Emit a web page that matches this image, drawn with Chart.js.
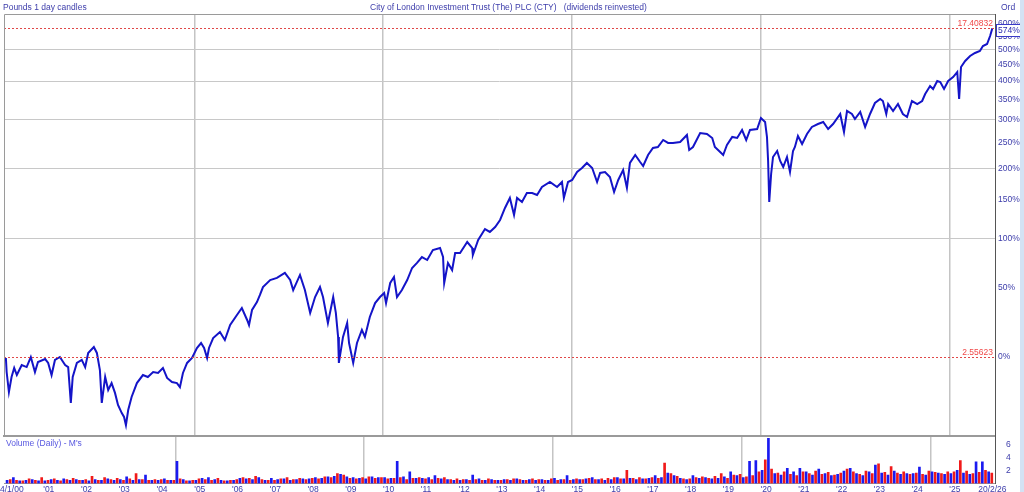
<!DOCTYPE html>
<html><head><meta charset="utf-8">
<script src="https://cdn.jsdelivr.net/npm/chart.js@4/dist/chart.umd.min.js"></script>
<style>
html,body{margin:0;padding:0;background:#fff;width:1024px;height:492px;overflow:hidden;position:relative;font-family:"Liberation Sans",Arial,sans-serif;}
.t{position:absolute;font-size:8.5px;line-height:10px;white-space:pre;color:#3c3caa;}
canvas{position:absolute;left:0;}
#strip{position:absolute;left:1020px;top:0;width:4px;height:492px;background:#d4e2f4;}
</style></head><body>
<canvas id="main" width="1024" height="437" style="top:0"></canvas>
<canvas id="vol" width="1024" height="55" style="top:437px"></canvas>
<div class="t" style="left:3px;top:2px">Pounds 1 day candles</div>
<div class="t" style="left:370px;top:2px">City of London Investment Trust (The) PLC (CTY)   (dividends reinvested)</div>
<div class="t" style="left:1001px;top:2px">Ord</div>
<div class="t" style="left:6px;top:438px;color:#5858e0">Volume (Daily) - M's</div>
<div id="strip"></div>
<script>
// ---- price series: decimal year and % change vs first close ----
const dates = [2000.01,2000.03,2000.09,2000.16,2000.23,2000.30,2000.43,2000.56,2000.67,2000.78,2000.86,
2001.05,2001.13,2001.22,2001.31,2001.44,2001.58,2001.66,2001.73,2001.78,2001.89,
2002.02,2002.11,2002.19,2002.34,2002.42,2002.50,2002.55,2002.64,2002.72,2002.81,2002.90,2002.98,
2003.08,2003.14,2003.19,2003.25,2003.34,2003.48,2003.64,2003.77,2003.91,
2004.04,2004.17,2004.28,2004.41,2004.54,2004.62,2004.70,2004.81,2004.94,
2005.07,2005.18,2005.26,2005.34,2005.39,2005.50,2005.68,2005.81,2005.95,
2006.13,2006.26,2006.40,2006.45,2006.53,2006.66,2006.74,2006.82,
2007.01,2007.19,2007.40,2007.54,2007.62,2007.80,2007.93,
2008.07,2008.20,2008.33,2008.41,2008.54,2008.68,2008.75,2008.81,2008.83,2008.94,
2009.05,2009.10,2009.21,2009.31,2009.44,2009.52,2009.65,2009.79,2009.92,
2010.03,2010.08,2010.19,2010.29,2010.37,2010.50,2010.64,2010.77,2010.90,
2011.03,2011.17,2011.32,2011.51,2011.59,2011.62,2011.72,2011.83,2011.91,
2012.04,2012.23,2012.36,2012.38,2012.52,2012.70,2012.83,2012.97,
2013.10,2013.23,2013.36,2013.47,2013.55,2013.68,2013.81,2013.95,
2014.08,2014.21,2014.42,2014.61,2014.74,2014.79,2014.90,
2015.01,2015.14,2015.27,2015.40,2015.54,2015.67,2015.75,2015.88,
2016.01,2016.12,2016.23,2016.36,2016.46,2016.54,2016.68,2016.81,2016.89,
2017.02,2017.15,2017.28,2017.42,2017.55,2017.68,2017.87,
2018.05,2018.11,2018.21,2018.40,2018.58,2018.72,2018.79,2018.93,
2019.01,2019.11,2019.25,2019.38,2019.51,2019.62,2019.72,2019.91,
2020.01,2020.12,2020.17,2020.20,2020.23,2020.28,2020.33,2020.44,2020.52,2020.60,2020.70,2020.78,2020.86,2020.91,2020.99,
2021.10,2021.23,2021.36,2021.52,2021.66,2021.79,2021.92,
2022.11,2022.21,2022.29,2022.42,2022.50,2022.64,2022.77,2022.90,
2023.03,2023.17,2023.24,2023.33,2023.38,2023.51,2023.64,2023.77,2023.88,
2024.01,2024.15,2024.28,2024.36,2024.49,2024.57,2024.68,2024.76,2024.86,2024.97,
2025.10,2025.21,2025.26,2025.31,2025.42,2025.55,2025.68,2025.81,2025.89,2026.00,2026.08,2026.14];
const pct = [-0.6,-8.4,-18.5,-11.0,-6.2,-10.0,-4.6,-5.7,0,-8.4,-2.9,
-1.2,-3.4,-10.0,-1.7,0,-4.6,-5.7,-23.5,-11.0,-3.4,
-1.7,-5.7,2.4,6.0,2.4,-7.3,-23.5,-11.0,-17.5,-14.1,-18.9,-24.4,
-27.9,-29.5,-32.8,-26.6,-20.8,-14.1,-10.0,-11.0,-8.4,
-8.9,-6.2,-11.5,-13.6,-14.1,-16.1,-8.9,-3.4,-0.6,
5.4,8.5,5.4,-0.6,5.4,11.7,15.7,10.4,20.5,
27.8,33.1,24.1,20.5,31.6,37.8,43.6,50.4,
56.7,58.6,63.3,56.7,47.8,61.4,47.8,
29.3,41.9,50.4,41.9,21.9,41.9,29.3,12.4,-3.4,12.4,
21.9,8.5,-3.4,8.5,17.1,12.4,26.3,37.0,41.9,
45.3,37.0,54.0,59.5,41.9,47.8,56.7,68.1,73.1,
79.2,76.1,86.7,88.9,79.2,54.0,73.1,66.1,83.5,
83.5,95.6,88.9,81.3,97.9,111.0,107.4,113.5,
122.4,138.6,152.9,129.0,152.9,147.0,160.4,160.4,
157.3,169.6,177.6,169.6,177.6,152.9,177.6,
180.9,194.3,201.2,210.2,201.2,177.6,192.6,194.3,
185.8,161.9,180.9,197.8,168.1,210.2,225.0,212.0,204.8,
225.0,238.5,240.5,254.7,248.6,248.6,250.6,
265.2,234.6,240.5,269.5,267.4,258.9,240.5,230.7,
225.0,244.5,261.0,258.9,276.0,254.7,276.0,278.2,
303.3,294.0,261.0,213.8,147.0,190.9,221.2,232.7,213.8,203.0,221.2,194.3,232.7,240.5,263.1,
246.5,267.4,282.7,289.4,294.0,278.2,289.4,
312.8,271.7,320.1,312.8,300.9,317.7,282.7,312.8,
340.2,350.6,345.3,312.8,337.6,320.1,337.6,312.8,305.7,
345.3,337.6,345.3,363.9,386.1,377.7,400.5,397.5,377.7,400.5,
412.2,427.4,350.6,443.0,462.4,479.1,489.3,496.2,513.9,521.0,550.7,581.0];

// reference price lines
const basePrice = 2.55623;
const refPrices = [17.40832, 2.55623];
const refLabels = ["17.40832", "2.55623"];
const lastLabel = "574%";

// axis ticks
const tickPcts = [0,50,100,150,200,250,300,350,400,450,500,550,600];
const majorPcts = [100,200,300,400,500];
const gridYears = [2005,2010,2015,2020,2025];
const yearTicks = [2001,2002,2003,2004,2005,2006,2007,2008,2009,2010,2011,2012,2013,2014,2015,2016,2017,2018,2019,2020,2021,2022,2023,2024,2025];
const yearLabels = ["'01","'02","'03","'04","'05","'06","'07","'08","'09","'10","'11","'12","'13","'14","'15","'16","'17","'18","'19","'20","'21","'22","'23","'24","'25"];
const endLabels = ["4/1/00", "20/2/26"];
const endDates = [2000.01, 2026.14];
const volTicks = [2,4,6];

// volume (millions), 6 periods per year from 2000
const volYear0 = 2000, volPerYear = 6;
const volBlue = [
.5,.9,.4,.5,.6,.4, .4,.6,.5,.7,.5,.6, .5,.4,.6,.5,.7,.5, .6,1.0,.5,.6,1.3,.5,
.5,.7,.5,3.4,.6,.4, .5,.8,.9,.6,.5,.4, .5,.8,.7,.6,.9,.5, .8,.6,.7,.5,.6,.7,
.7,.9,.8,1.0,1.1,1.4, 1.0,.9,.8,.7,1.0,.9, .9,.8,3.4,1.0,1.8,.8, .8,.9,1.2,.7,.6,.5,
.5,.6,1.3,.7,.5,.6, .5,.6,.5,.7,.5,.6, .5,.6,.5,.8,.6,1.2, .6,.6,.7,.9,.6,.5,
.6,.9,.7,.8,.6,.7, .8,1.2,.9,1.6,1.2,.8, .6,1.2,.8,.9,.7,.8, 1.0,1.8,1.2,.9,3.4,3.5,
2.0,6.9,1.5,1.3,2.3,1.8, 2.3,1.8,1.3,2.2,1.5,1.2, 1.4,1.9,2.3,1.5,1.2,1.8, 2.8,1.6,1.3,1.9,1.4,1.5,
1.5,2.5,1.3,1.8,1.6,1.4, 1.5,2.0,1.6,1.4,3.3,3.3, 1.8];
const volRed = [
.6,.5,.4,.7,.5,.9, .5,.7,.4,.6,.8,.5, .6,1.1,.5,.9,.6,.8, .5,.7,1.5,.6,.5,.6,
.6,.5,.5,.7,.4,.5, .7,.6,.5,.8,.4,.5, .6,.9,.8,1.1,.6,.5, .5,.7,.9,.6,.8,.6,
.8,.7,1.0,.9,1.5,1.3, .8,.7,.9,1.0,.8,.9, .7,.8,.9,.6,.8,.9, .7,.6,.8,.9,.6,.7,
.6,.5,.6,.5,.7,.5, .5,.6,.7,.6,.5,.7, .6,.5,.7,.5,.6,.5, .7,.6,.8,.6,.7,.8,
.9,.7,2.0,.8,.9,.7, .9,.8,3.1,1.5,1.1,.7, .7,.9,1.0,.8,1.1,1.5, .8,1.3,1.4,1.0,1.2,1.8,
3.6,2.2,1.6,1.8,1.4,1.2, 1.8,1.5,1.9,1.4,1.7,1.3, 1.6,2.2,1.8,1.4,1.9,1.5, 3.0,1.7,2.6,1.6,1.8,1.4,
1.6,1.4,1.9,1.7,1.5,1.8, 1.8,3.5,1.9,1.5,1.7,2.0, 1.6];

const xMin = 1999.96, xMax = 2026.21;
const yMin = 0.6307, yMax = 7.398;
const vMin = 0, vMax = 7.1;
const TXT = '#3c3caa';
const FONT = {size: 8.5, family: '"Liberation Sans", Arial, sans-serif'};
const FONTSTR = '8.5px "Liberation Sans", Arial, sans-serif';

Chart.defaults.animation = false;
Chart.defaults.responsive = false;
Chart.defaults.devicePixelRatio = 1;
Chart.defaults.plugins.legend.display = false;
Chart.defaults.plugins.tooltip.enabled = false;

const mainPoints = dates.map((d, i) => ({x: d, y: 1 + pct[i] / 100}));

const mainDeco = {
  id: 'mainDeco',
  afterDatasetsDraw(chart) {
    const {ctx, chartArea: a, scales: {y}} = chart;
    ctx.save();
    ctx.font = FONTSTR;
    refPrices.forEach((p, i) => {
      const py = Math.round(y.getPixelForValue(p / basePrice)) + 0.5;
      ctx.strokeStyle = '#e04848'; ctx.lineWidth = 1; ctx.setLineDash([2, 2]);
      ctx.beginPath(); ctx.moveTo(a.left, py); ctx.lineTo(a.right, py); ctx.stroke();
      ctx.setLineDash([]);
      ctx.fillStyle = '#f04848'; ctx.textAlign = 'right'; ctx.textBaseline = 'alphabetic';
      ctx.fillText(refLabels[i], a.right - 2, py - 3);
    });
    const ly = Math.round(y.getPixelForValue(1 + pct[pct.length - 1] / 100)) + 2;
    ctx.fillStyle = '#fff'; ctx.fillRect(a.right + 1, ly - 6, 25, 12);
    ctx.strokeStyle = '#3a3ac8'; ctx.lineWidth = 1;
    ctx.strokeRect(a.right + 1.5, ly - 5.5, 25, 12);
    ctx.fillStyle = '#2a2ab0'; ctx.textAlign = 'left'; ctx.textBaseline = 'middle';
    ctx.fillText(lastLabel, a.right + 3, ly + 0.5);
    ctx.strokeStyle = '#9a9a9a';
    ctx.beginPath(); ctx.moveTo(a.left + 0.5, a.bottom); ctx.lineTo(a.left + 0.5, a.top + 0.5); ctx.lineTo(a.right, a.top + 0.5); ctx.stroke();
    ctx.restore();
  }
};

new Chart(document.getElementById('main'), {
  type: 'line',
  data: {datasets: [{data: mainPoints, borderColor: '#1414c8', borderWidth: 2, pointRadius: 0, tension: 0, fill: false}]},
  options: {
    layout: {padding: {left: 4, top: 14, right: 0, bottom: 0}},
    scales: {
      x: {type: 'linear', min: xMin, max: xMax,
        afterBuildTicks: s => { s.ticks = gridYears.map(v => ({value: v})); s.min = xMin; s.max = xMax; },
        afterFit: s => { s.height = 1; s.paddingLeft = 0; s.paddingRight = 0; },
        ticks: {display: false},
        grid: {color: '#c4c4c4', lineWidth: 1.5, drawTicks: false},
        border: {display: true, color: '#9a9a9a', width: 2}},
      y: {type: 'logarithmic', position: 'right', min: yMin, max: yMax,
        afterBuildTicks: s => { s.ticks = tickPcts.map(p => ({value: 1 + p / 100})); s.min = yMin; s.max = yMax; },
        afterFit: s => { s.width = 29; s.paddingTop = 0; s.paddingBottom = 0; },
        ticks: {autoSkip: false, padding: 3, color: TXT, font: FONT,
          callback: v => Math.round((v - 1) * 100) + '%'},
        grid: {drawTicks: false, lineWidth: 1,
          color: c => (c.tick && majorPcts.includes(Math.round((c.tick.value - 1) * 100))) ? '#c8c8c8' : 'rgba(0,0,0,0)'},
        border: {display: true, color: '#555', width: 1}}
    }
  },
  plugins: [mainDeco]
});

const blueBars = volBlue.map((v, i) => ({x: volYear0 + (i + 0.25) / volPerYear, y: v}));
const redBars = volRed.map((v, i) => ({x: volYear0 + (i + 0.75) / volPerYear, y: v}));

const volDeco = {
  id: 'volDeco',
  afterDraw(chart) {
    const {ctx, chartArea: a, scales: {x}} = chart;
    ctx.save();
    ctx.font = FONTSTR; ctx.fillStyle = TXT; ctx.textBaseline = 'middle';
    const yy = a.bottom + 1 + 5.1;
    ctx.textAlign = 'left'; ctx.fillText(endLabels[0], 0, yy);
    ctx.textAlign = 'center'; ctx.fillText(endLabels[1], x.getPixelForValue(endDates[1]), yy);
    ctx.restore();
  }
};

new Chart(document.getElementById('vol'), {
  type: 'bar',
  data: {datasets: [
    {data: blueBars, backgroundColor: '#1a1af0', barThickness: 2, grouped: false},
    {data: redBars, backgroundColor: '#f01a1a', barThickness: 2, grouped: false}
  ]},
  options: {
    layout: {padding: {left: 4, top: 0, right: 0, bottom: 0}},
    scales: {
      x: {type: 'linear', min: xMin, max: xMax, offset: false,
        afterBuildTicks: s => { s.ticks = yearTicks.map(v => ({value: v})); s.min = xMin; s.max = xMax; },
        afterFit: s => { s.height = 8.5; s.paddingLeft = 0; s.paddingRight = 0; },
        ticks: {autoSkip: false, maxRotation: 0, align: 'start', padding: 1, color: TXT, font: FONT,
          callback: (v, i) => yearLabels[i]},
        grid: {drawTicks: false, lineWidth: 1.5,
          color: c => (c.tick && gridYears.includes(c.tick.value)) ? '#c4c4c4' : 'rgba(0,0,0,0)'},
        border: {display: true, color: '#9a9a9a', width: 1}},
      y: {position: 'right', min: vMin, max: vMax,
        afterBuildTicks: s => { s.ticks = volTicks.map(v => ({value: v})); s.min = vMin; s.max = vMax; },
        afterFit: s => { s.width = 29; s.paddingTop = 0; s.paddingBottom = 0; },
        ticks: {padding: 3, color: TXT, font: FONT},
        grid: {display: false},
        border: {display: true, color: '#555', width: 1}}
    }
  },
  plugins: [volDeco]
});
</script>
</body></html>
